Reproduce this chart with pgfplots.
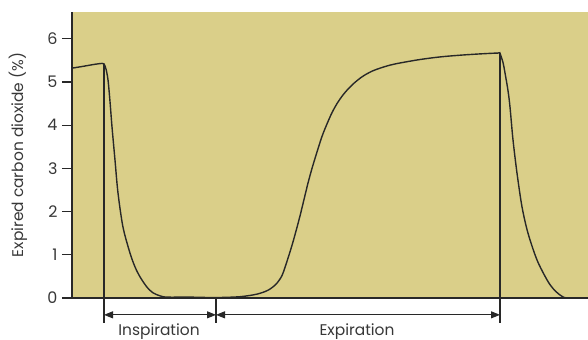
\documentclass[border=0pt]{standalone}
\usepackage{pgfplots}
\pgfplotsset{compat=1.18}
\usetikzlibrary{arrows.meta}
\usepackage{fontspec}
\setmainfont{Poppins}
\definecolor{bgtan}{RGB}{218,207,137}
\definecolor{ink}{RGB}{40,40,40}
\definecolor{txt}{RGB}{55,55,55}
\begin{document}
\begin{tikzpicture}
\path[use as bounding box] (0,0) rectangle (588bp,340bp);
\begin{axis}[
  at={(72bp,42bp)}, anchor=south west,
  scale only axis, width=516bp, height=286bp,
  xmin=72, xmax=588, ymin=0, ymax=6.62,
  axis x line*=bottom, axis y line*=left,
  axis line style={-, line width=1.6bp, color=ink},
  axis background/.style={fill=bgtan},
  xtick=\empty,
  ytick={0,1,2,3,4,5,6},
  tick align=outside, major tick length=10bp,
  tick style={line width=1.2bp, color=ink},
  yticklabel style={font=\fontsize{16}{18}\selectfont, color=txt, xshift=-1bp},
  /pgf/number format/assume math mode=true,
  ylabel={Expired carbon dioxide (\%)},
  ylabel style={at={(axis description cs:-0.1047,0.5)}, anchor=center, font=\fontsize{15.5}{17}\selectfont, color=txt},
  clip=false,
]
\addplot[color=ink, line width=1.4bp, smooth, tension=0.5] coordinates {
(72,5.32) (85,5.37) (95,5.41) (102,5.43) (104,5.42) (106,5.30) (108,5.05) (110,4.55)
(112,3.96) (115,3.19) (118,2.43) (123,1.64) (130,1.04) (135,0.72) (140,0.49) (147,0.25)
(153,0.12) (160,0.05) (167,0.02) (190,0.02) (215,0.01) (240,0.03) (257,0.09) (268,0.18) (276,0.32)
(282,0.52) (287,0.85) (292,1.22) (296,1.55) (300,1.90) (304,2.28) (308,2.66) (312,3.00) (317,3.38) (322,3.74) (327,4.03) (332,4.29) (337,4.50) (342,4.67) (347,4.81)
(352,4.93) (358,5.05) (364,5.15) (372,5.25) (380,5.32) (390,5.39) (400,5.44) (420,5.52) (440,5.58) (460,5.62) (480,5.65)
(498,5.67) (500,5.66) (503,5.45) (505,5.21) (508,4.80) (510,4.42) (513,3.66) (517,2.89)
(522,2.11) (528,1.50) (537,0.88) (547,0.42) (553,0.22) (560,0.07) (567,0.0) (588,0.0)
};
\draw[color=ink, line width=1.6bp] (axis cs:63,0) -- (axis cs:72,0);
\draw[color=ink, line width=1.2bp] (axis cs:104,5.42) -- (axis cs:104,-0.58);
\draw[color=ink, line width=1.2bp] (axis cs:216,0) -- (axis cs:216,-0.58);
\draw[color=ink, line width=1.2bp] (axis cs:500,5.66) -- (axis cs:500,-0.58);
\draw[color=ink, line width=1.0bp, {Triangle[length=9bp,width=7bp]}-{Triangle[length=9bp,width=7bp]}] (axis cs:104,-0.39) -- (axis cs:216,-0.39);
\draw[color=ink, line width=1.0bp, {Triangle[length=9bp,width=7bp]}-{Triangle[length=9bp,width=7bp]}] (axis cs:216,-0.39) -- (axis cs:500,-0.39);
\node[color=txt, font=\fontsize{15.5}{17}\selectfont] at (axis cs:159,-0.78) {Inspiration};
\node[color=txt, font=\fontsize{15.5}{17}\selectfont] at (axis cs:357,-0.78) {Expiration};
\end{axis}
\end{tikzpicture}
\end{document}
